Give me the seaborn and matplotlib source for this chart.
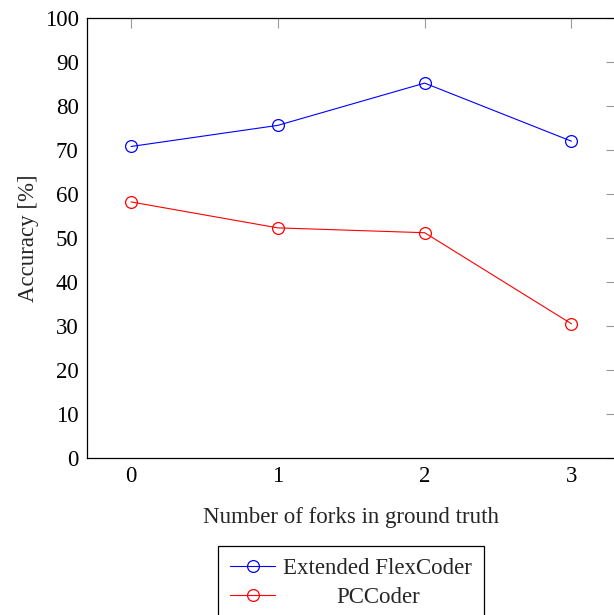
import matplotlib
matplotlib.use("Agg")
import matplotlib.pyplot as plt
import seaborn as sns
import pandas as pd

forks = [0, 1, 2, 3]
flexcoder = [70.8, 75.6, 85.2, 72.0]
pccoder = [58.2, 52.3, 51.2, 30.5]
series_names = ["Extended FlexCoder", "PCCoder"]
y_ticks = [0, 10, 20, 30, 40, 50, 60, 70, 80, 90, 100]

df = pd.DataFrame({
    "forks": forks * 2,
    "acc": flexcoder + pccoder,
    "model": [series_names[0]] * 4 + [series_names[1]] * 4,
})

sns.set_theme(style="white")
plt.rcParams["font.family"] = ["Liberation Serif", "DejaVu Serif"]
plt.rcParams["mathtext.fontset"] = "stix"
FS = 16.5

fig = plt.figure(figsize=(6.14, 6.15), dpi=100)
ax = fig.add_axes([87 / 614, (615 - 458) / 615, 528.5 / 614, 440 / 615])

sns.lineplot(data=df, x="forks", y="acc", hue="model",
             palette={series_names[0]: "blue", series_names[1]: "red"},
             marker="o", markersize=8.5, markerfacecolor="none",
             markeredgewidth=0.9, linewidth=0.8, ax=ax, legend=False)
for ln in ax.lines:
    ln.set_markeredgecolor(ln.get_color())

ax.set_xlim(-0.3, 3.3)
ax.set_ylim(0, 100)
ax.set_xticks(forks)
ax.set_yticks(y_ticks)
ax.tick_params(axis="both", which="major", direction="in", length=7.5,
               width=0.8, color="#999999", labelsize=FS, pad=6,
               top=True, right=True, labelcolor="black")
for s in ax.spines.values():
    s.set_color("black")
    s.set_linewidth(0.9)

ax.set_xlabel("Number of forks in ground truth", fontsize=FS, labelpad=14.5)
ax.set_ylabel("Accuracy [%]", fontsize=FS, labelpad=4)

from matplotlib.lines import Line2D
handles = [Line2D([], [], color=c, marker="o", markerfacecolor="none",
                  markeredgecolor=c, markersize=8.5, linewidth=0.8,
                  markeredgewidth=0.9)
           for c in ["blue", "red"]]
leg = fig.legend(handles, series_names, loc="upper center",
                 bbox_to_anchor=((87 + 615) / 2 / 614, 1 - 546 / 615),
                 fontsize=FS, frameon=True, fancybox=False,
                 edgecolor="black", framealpha=1, handlelength=2.0,
                 handletextpad=0.35, labelspacing=0.34, borderpad=0.52,
                 borderaxespad=0)
leg.get_frame().set_linewidth(0.9)

fig.canvas.draw()
r = fig.canvas.get_renderer()
texts = leg.get_texts()
widths = [t.get_window_extent(r).width for t in texts]
mw = max(widths)
for t, w in zip(texts, widths):
    t.set_position(((mw - w) / 2, 0))

fig.savefig("out.png", dpi=100)
